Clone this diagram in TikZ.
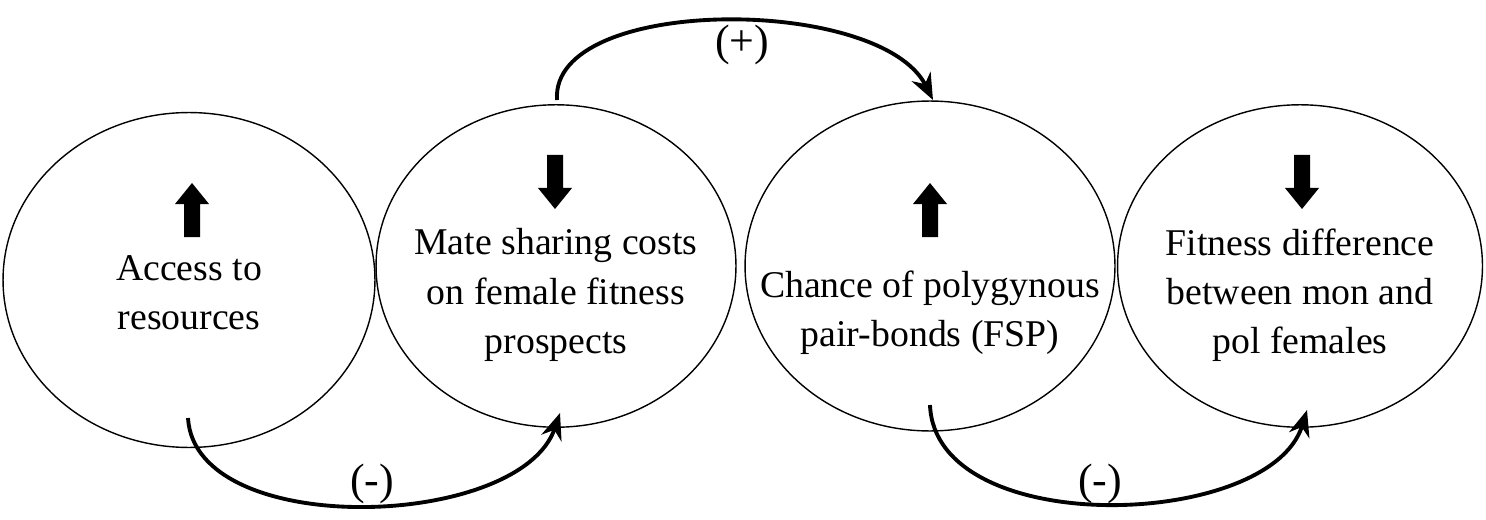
\documentclass[tikz,border=0pt]{standalone}
\usepackage{fontspec}
\setmainfont{Liberation Serif}
\usetikzlibrary{shapes.geometric,arrows.meta}
\begin{document}
\begin{tikzpicture}[x=0.02cm,y=-0.02cm,
  ell/.style={draw,ellipse,line width=0.8pt},
  lbl/.style={font=\fontsize{21.5}{28}\selectfont,align=center},
  sgn/.style={font=\fontsize{25}{30}\selectfont},
  conn/.style={line width=2.2pt,-{Stealth[length=15pt,width=12pt]}}]
\useasboundingbox (0,0) rectangle (1486,520);
\node[ell,minimum width=7.44cm,minimum height=6.7cm] (e1) at (189,280) {};
\node[ell,minimum width=7.2cm,minimum height=6.45cm] (e2) at (556,266) {};
\node[ell,minimum width=7.4cm,minimum height=6.6cm] (e3) at (930,266) {};
\node[ell,minimum width=7.3cm,minimum height=6.45cm] (e4) at (1300,266) {};
\node[lbl] (t1) at (189,293) {Access to\\resources};
\node[lbl] (t2) at (556,295) {Mate sharing costs\\on female fitness\\prospects};
\node[lbl] (t3) at (930,313) {Chance of polygynous\\pair-bonds (FSP)};
\node[lbl] (t4) at (1300,295) {Fitness difference\\between mon and\\pol females};
\newcommand{\uparr}[2]{\fill (#1-8,#2+27)--(#1-8,#2-6)--(#1-17,#2-6)--(#1,#2-27)--(#1+17,#2-6)--(#1+8,#2-6)--(#1+8,#2+27)--cycle;}
\newcommand{\dnarr}[2]{\fill (#1-8,#2-27)--(#1-8,#2+6)--(#1-17,#2+6)--(#1,#2+27)--(#1+17,#2+6)--(#1+8,#2+6)--(#1+8,#2-27)--cycle;}
\uparr{192}{210}
\dnarr{555}{182}
\uparr{930}{210}
\dnarr{1302}{182}
\coordinate (a1) at (557,100);
\coordinate (a2) at (933,100);
\coordinate (b1) at (188,418);
\coordinate (b2) at (560,413);
\coordinate (c1) at (930,405);
\coordinate (c2) at (1307,410);
\draw[conn] (a1) .. controls (550,-5) and (880,-5) .. (a2);
\draw[conn] (b1) .. controls (195,540) and (520,530) .. (b2);
\draw[conn] (c1) .. controls (935,540) and (1270,530) .. (c2);
\node[sgn] (p) at (742,45) {(+)};
\node[sgn] (m1) at (372,484) {(-)};
\node[sgn] (m2) at (1100,484) {(-)};
\end{tikzpicture}
\end{document}
